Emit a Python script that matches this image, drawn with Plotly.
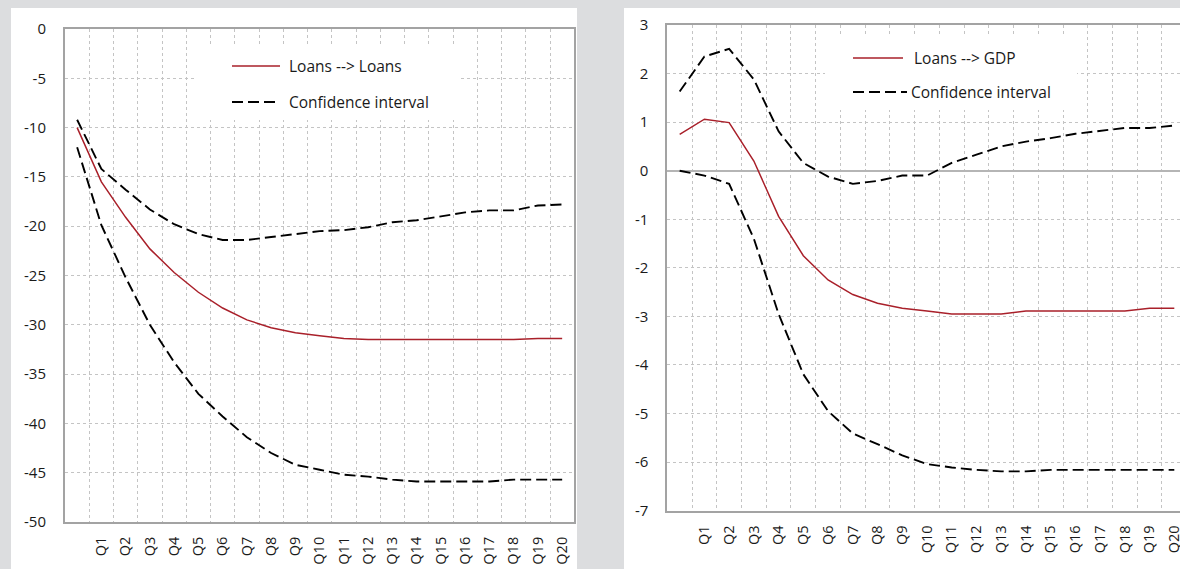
import plotly.graph_objects as go

# Horizon (quarters after the shock); the impact period carries no label
tick_labels = ["", "Q1", "Q2", "Q3", "Q4", "Q5", "Q6", "Q7", "Q8", "Q9", "Q10",
               "Q11", "Q12", "Q13", "Q14", "Q15", "Q16", "Q17", "Q18", "Q19", "Q20"]
periods = list(range(len(tick_labels)))

# Response of loans to a loan shock, with confidence bands
loans_loans = [-10.0, -15.5, -19.1, -22.3, -24.7, -26.7, -28.3, -29.5, -30.3, -30.8, -31.1,
               -31.4, -31.5, -31.5, -31.5, -31.5, -31.5, -31.5, -31.5, -31.4, -31.4]
ll_upper = [-9.2, -14.2, -16.3, -18.3, -19.8, -20.8, -21.4, -21.4, -21.1, -20.8, -20.5,
            -20.4, -20.1, -19.6, -19.4, -19.0, -18.6, -18.4, -18.4, -17.9, -17.8]
ll_lower = [-12.0, -19.9, -25.2, -30.0, -33.8, -37.0, -39.3, -41.4, -43.0, -44.2, -44.7,
            -45.2, -45.4, -45.7, -45.9, -45.9, -45.9, -45.9, -45.7, -45.7, -45.7]

# Response of GDP to a loan shock, with confidence bands
loans_gdp = [0.75, 1.06, 0.99, 0.2, -0.94, -1.75, -2.25, -2.55, -2.73, -2.83, -2.89,
             -2.95, -2.95, -2.95, -2.89, -2.89, -2.89, -2.89, -2.89, -2.83, -2.83]
lg_upper = [1.63, 2.35, 2.51, 1.88, 0.81, 0.16, -0.12, -0.27, -0.21, -0.1, -0.1,
            0.16, 0.33, 0.5, 0.6, 0.67, 0.76, 0.82, 0.88, 0.88, 0.93]
lg_lower = [0.0, -0.1, -0.27, -1.4, -2.95, -4.19, -4.95, -5.41, -5.63, -5.86, -6.04,
            -6.11, -6.16, -6.19, -6.19, -6.16, -6.16, -6.16, -6.16, -6.16, -6.16]

left_ticks = [0, -5, -10, -15, -20, -25, -30, -35, -40, -45, -50]
right_ticks = [3, 2, 1, 0, -1, -2, -3, -4, -5, -6, -7]

W, H = 1180, 569
RED = "#a9202a"
BLACK = "#000000"
DASH = "11px,5px"
GRID = "#c4c4c4"
BORDER = "#a3a3a3"
FONT = "Open Sans"
TXT = "#1a1a1a"


def px(x):
    return x / W


def py(y):
    return 1 - y / H


def plain(v):
    # tick text with an ordinary hyphen for negatives
    return str(v)


fig = go.Figure()

for xa, ya, main, up, lo in [("x", "y", loans_loans, ll_upper, ll_lower),
                             ("x2", "y2", loans_gdp, lg_upper, lg_lower)]:
    fig.add_trace(go.Scatter(x=periods, y=up, mode="lines", xaxis=xa, yaxis=ya,
                             line=dict(color=BLACK, width=1.9, dash=DASH), showlegend=False))
    fig.add_trace(go.Scatter(x=periods, y=lo, mode="lines", xaxis=xa, yaxis=ya,
                             line=dict(color=BLACK, width=1.9, dash=DASH), showlegend=False))
    fig.add_trace(go.Scatter(x=periods, y=main, mode="lines", xaxis=xa, yaxis=ya,
                             line=dict(color=RED, width=1.5), showlegend=False))

boundaries = [i + 0.5 for i in periods[:-1]]

xcommon = dict(
    tickmode="array", tickvals=periods, ticktext=tick_labels, tickangle=-90,
    showgrid=False, zeroline=False, showline=True, linecolor=BORDER, linewidth=2,
    ticks="", ticklabelstandoff=7, ticklabeloverflow="allow", automargin=False,
    tickfont=dict(family=FONT, size=14.5, color=TXT),
    minor=dict(tickmode="array", tickvals=boundaries, showgrid=True,
               gridcolor=GRID, gridwidth=1, griddash="dot", ticks=""),
)
ycommon = dict(
    tickmode="array", automargin=False,
    showgrid=True, gridcolor=GRID, gridwidth=1, griddash="dot",
    showline=True, linecolor=BORDER, linewidth=2, ticks="", ticklabelstandoff=14,
    tickfont=dict(family=FONT, size=15, color=TXT),
)

fig.update_layout(
    width=W, height=H, margin=dict(l=0, r=0, t=0, b=0, autoexpand=False),
    paper_bgcolor="#dcdddf", plot_bgcolor="white",
    xaxis=dict(xcommon, domain=[px(65), px(574.3)], range=[-0.5, 20.5], mirror=True, anchor="y"),
    yaxis=dict(ycommon, domain=[py(522), py(29)], range=[-50, 0], tickvals=left_ticks,
               ticktext=[plain(v) for v in left_ticks],
               zeroline=False, mirror=True, anchor="x"),
    xaxis2=dict(xcommon, domain=[px(667.3), 1.0], range=[-0.5, 20.23], mirror=True, anchor="y2"),
    yaxis2=dict(ycommon, domain=[py(510.7), py(25)], range=[-7, 3], tickvals=right_ticks,
                ticktext=[plain(v) for v in right_ticks],
                zeroline=True, zerolinecolor="#b5b5b5", zerolinewidth=2,
                mirror=False, anchor="x2"),
)

shapes = [
    # white chart panels
    dict(type="rect", xref="paper", yref="paper", x0=px(11), x1=px(577), y0=0, y1=py(8),
         fillcolor="white", line=dict(width=0), layer="below"),
    dict(type="rect", xref="paper", yref="paper", x0=px(624), x1=1, y0=0, y1=py(8),
         fillcolor="white", line=dict(width=0), layer="below"),
    # legend backgrounds
    dict(type="rect", xref="paper", yref="paper", x0=px(195), x1=px(460), y0=py(120), y1=py(46),
         fillcolor="white", line=dict(width=0), layer="above"),
    dict(type="rect", xref="paper", yref="paper", x0=px(825), x1=px(1077), y0=py(110), y1=py(37),
         fillcolor="white", line=dict(width=0), layer="above"),
]

legend_rows = [
    # (x start, x end, y, colour, dash, width, label, text x)
    (232, 280, 66, RED, "solid", 1.5, "Loans --> Loans", 287),
    (232, 278, 102, BLACK, DASH, 1.9, "Confidence interval", 287),
    (853, 903, 58, RED, "solid", 1.5, "Loans --> GDP", 912),
    (853, 907, 92, BLACK, DASH, 1.9, "Confidence interval", 909),
]
annotations = []
for x0, x1, y, col, dash, w, label, tx in legend_rows:
    shapes.append(dict(type="line", xref="paper", yref="paper", x0=px(x0), x1=px(x1),
                       y0=py(y), y1=py(y), line=dict(color=col, width=w, dash=dash),
                       layer="above"))
    annotations.append(dict(xref="paper", yref="paper", x=px(tx), y=py(y), text=label,
                            showarrow=False, xanchor="left", yanchor="middle",
                            font=dict(family=FONT, size=15.5, color=TXT)))

fig.update_layout(shapes=shapes, annotations=annotations)

fig.write_html("out.html")
